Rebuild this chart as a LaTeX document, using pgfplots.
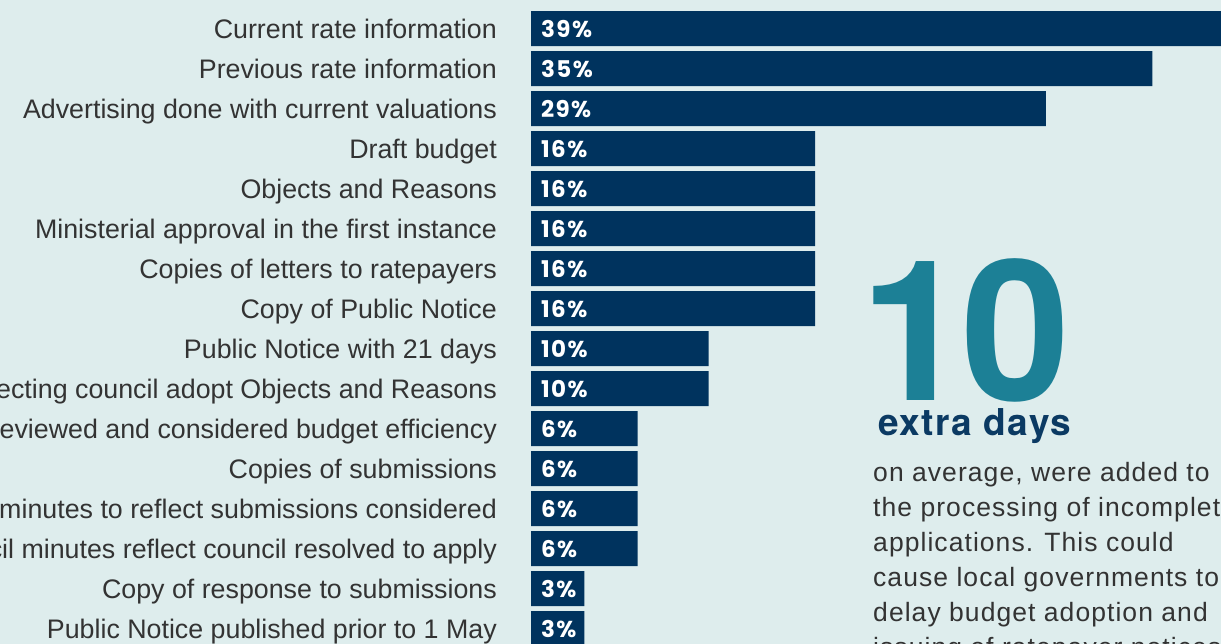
\documentclass[border=0pt]{standalone}
\usepackage{pgfplots}
\pgfplotsset{compat=1.18}
\usepackage{fontspec}
\setmainfont{Liberation Sans}
\newfontfamily\pop{Poppins}[LetterSpace=6]
\newfontfamily\heros{TeX Gyre Heros}
\newfontfamily\herosx{TeX Gyre Heros}[LetterSpace=4]
\newfontfamily\parfont{Liberation Sans}[LetterSpace=4]
\definecolor{navy}{HTML}{00335E}
\definecolor{tealc}{HTML}{1C8096}
\definecolor{bgc}{HTML}{DEEDED}
\definecolor{txt}{HTML}{333333}
\definecolor{navyt}{HTML}{0B3A63}
\begin{document}
\begin{tikzpicture}[x=1bp,y=1bp]
\path[use as bounding box, clip] (0,0) rectangle (1221,-644);
\fill[bgc] (0,0) rectangle (1221,-644);
\begin{axis}[
  at={(531bp,-8.5bp)}, anchor=north west,
  scale only axis, width=692.25bp, height=640bp,
  xmin=0, xmax=39, ymin=-0.5, ymax=15.5, y dir=reverse,
  axis line style={draw=none}, xtick=\empty,
  ytick={0,...,15}, major tick length=0pt,
  yticklabels={Current rate information, Previous rate information, Advertising done with current valuations, Draft budget, Objects and Reasons, Ministerial approval in the first instance, Copies of letters to ratepayers, Copy of Public Notice, Public Notice with 21 days, Minutes reflecting council adopt Objects and Reasons, Council reviewed and considered budget efficiency, Copies of submissions, Council minutes to reflect submissions considered, Council minutes reflect council resolved to apply, Copy of response to submissions, Public Notice published prior to 1 May},
  yticklabel style={anchor=base east, inner sep=0pt, xshift=-34bp, yshift=-9.5bp, text=txt, font=\fontsize{26.8bp}{30bp}\selectfont},
  clip=true,
]
\addplot[xbar, fill=navy, draw=none, bar width=35bp, bar shift=0pt] coordinates {
(39,0) (35,1) (29,2) (16,3) (16,4) (16,5) (16,6) (16,7) (10,8) (10,9) (6,10) (6,11) (6,12) (6,13) (3,14) (3,15)};
\addplot[draw=none, mark=none, point meta=explicit symbolic,
  nodes near coords,
  every node near coord/.style={anchor=base west, inner sep=0pt, xshift=10bp, yshift=-8.5bp, text=white, font=\pop\bfseries\fontsize{23bp}{25bp}\selectfont}]
  coordinates {
(0,0) [39\%] (0,1) [35\%] (0,2) [29\%] (0,3) [16\%] (0,4) [16\%] (0,5) [16\%] (0,6) [16\%] (0,7) [16\%] (0,8) [10\%] (0,9) [10\%] (0,10) [6\%] (0,11) [6\%] (0,12) [6\%] (0,13) [6\%] (0,14) [3\%] (0,15) [3\%]};
\end{axis}
\node[anchor=base west, inner sep=0pt, text=tealc, font=\heros\bfseries\fontsize{196bp}{196bp}\selectfont] at (860,-400) {1\kern-8bp 0};
\node[anchor=base west, inner sep=0pt, text=navyt, font=\herosx\bfseries\fontsize{37bp}{40bp}\selectfont] at (878,-435.5) {extra days};
\foreach \t [count=\i from 0] in {on average{,} were added to, the processing of incomplete, applications. This could, cause local governments to, delay budget adoption and, issuing of ratepayer notices.}{
  \node[anchor=base west, inner sep=0pt, text=txt, font=\parfont\fontsize{26.5bp}{30bp}\selectfont] at (873,{-481.7-35*\i}) {\t};
}
\end{tikzpicture}
\end{document}
